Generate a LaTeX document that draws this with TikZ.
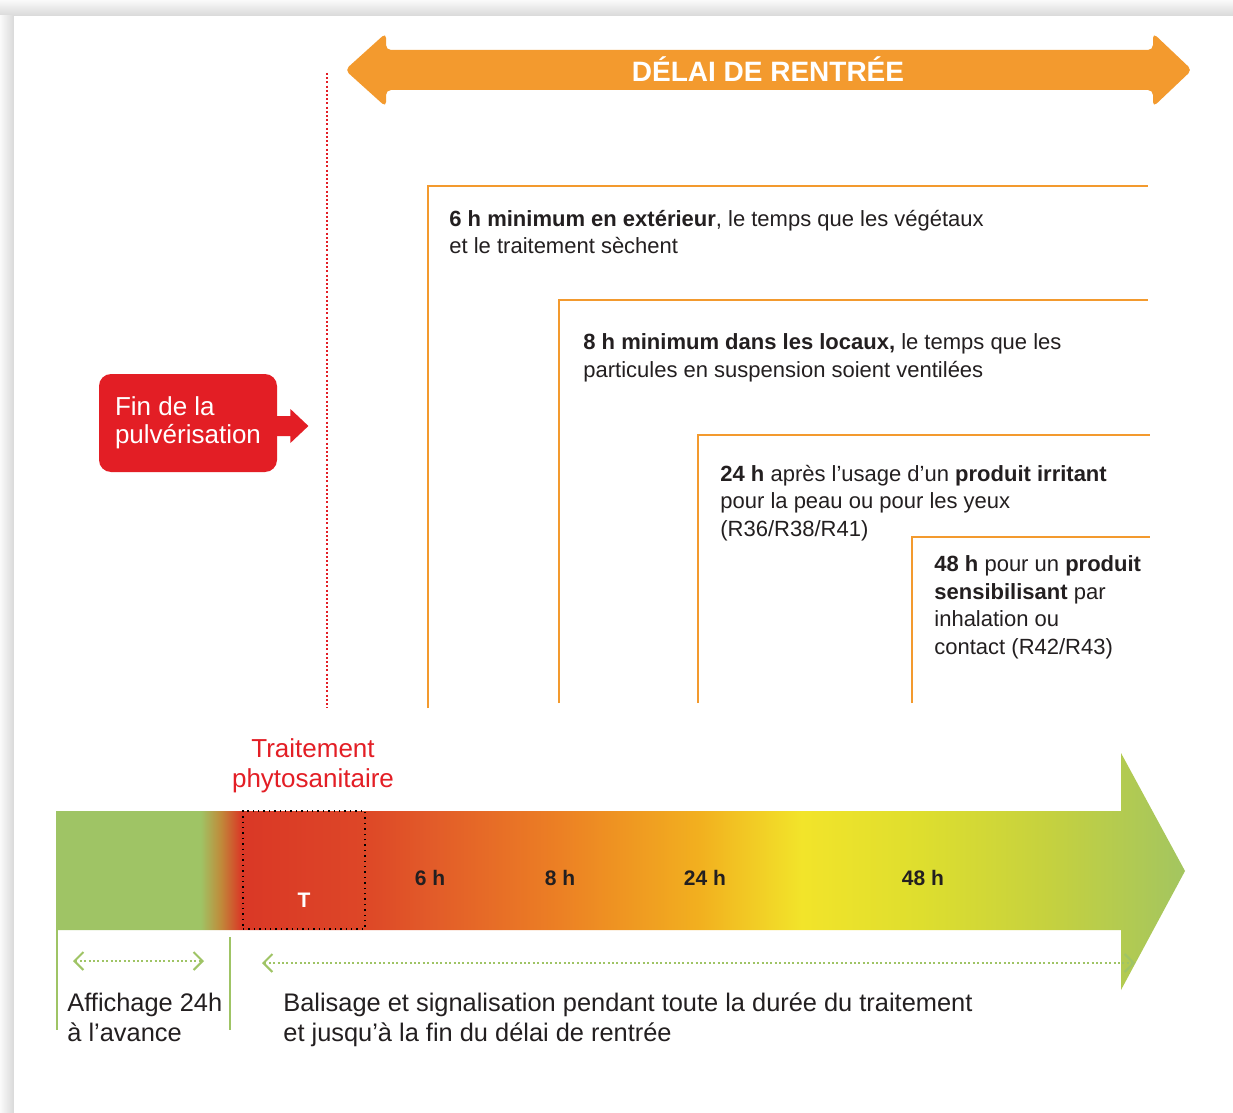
\documentclass[tikz,border=0pt]{standalone}
\usepackage{fontspec}
\setmainfont{Liberation Sans}
\usetikzlibrary{positioning,arrows.meta}
\definecolor{ink}{HTML}{231F20}
\definecolor{delaiorange}{HTML}{F39A2E}
\definecolor{finred}{HTML}{E31E25}
\definecolor{lgreen}{HTML}{9FC465}
\definecolor{barolive}{HTML}{C08A3A}
\definecolor{barred}{HTML}{DA3826}
\definecolor{barredb}{HTML}{DD4627}
\definecolor{barora}{HTML}{E25B29}
\definecolor{barorb}{HTML}{EC8024}
\definecolor{baryelo}{HTML}{F2B01F}
\definecolor{baryel}{HTML}{F2E42A}
\definecolor{baryelg}{HTML}{DEDE2E}
\definecolor{barlime}{HTML}{C5D13F}
\definecolor{bargreen}{HTML}{A3C560}
\pgfdeclarehorizontalshading{timeline}{100bp}{color(0bp)=(lgreen); color(25bp)=(lgreen);
  color(31.4bp)=(lgreen); color(32.3bp)=(barolive); color(33.2bp)=(barred);
  color(38.5bp)=(barredb); color(41.6bp)=(barora); color(47.3bp)=(barorb);
  color(53.5bp)=(baryelo); color(58bp)=(baryel); color(63.3bp)=(baryelg);
  color(69bp)=(barlime); color(75bp)=(bargreen); color(100bp)=(bargreen)}

\begin{document}
\begin{tikzpicture}[x=0.5pt,y=-0.5pt,
    bracket/.style={delaiorange,line width=1pt},
    spray/.style={finred,line width=1pt,dash pattern=on 1pt off 1.1pt},
    gline/.style={lgreen,line width=1.2pt},
    garrow/.style={lgreen,line width=1pt,dash pattern=on 1pt off 1.2pt,{Straight Barb[length=4.5pt,width=9pt,line width=1pt]}-{Straight Barb[length=4.5pt,width=9pt,line width=1pt]}},
    txt/.style={anchor=base west,inner sep=0pt,align=left,text=ink,font=\fontsize{11}{13.7}\selectfont},
    bottomtxt/.style={anchor=base west,inner sep=0pt,align=left,text=ink,font=\fontsize{12.7}{14.6}\selectfont},
    hlabel/.style={anchor=base,inner sep=0pt,text=ink,font=\fontsize{10.5}{12}\selectfont\bfseries},
    finbox/.style={fill=finred,rounded corners=6pt,text=white,align=left,minimum width=89pt,minimum height=49pt,inner xsep=8pt,font=\fontsize{13}{14}\selectfont},
    tbox/.style={draw=black,dotted,line width=0.7pt,minimum width=61pt,minimum height=59pt,inner sep=0pt}]
  \useasboundingbox (0,0) rectangle (1233,1113);
  \shade[top color=gray!4,bottom color=gray!30] (0,0) rectangle (1233,16);
  \shade[left color=gray!4,right color=gray!30] (0,16) rectangle (14,1113);
  \fill[white] (14,16) rectangle (1233,1113);

  \fill[delaiorange,rounded corners=2.5pt] (345,70) -- (386,33) -- (386,50) -- (1153,50) -- (1153,33)
    -- (1192,70) -- (1153,107) -- (1153,90) -- (386,90) -- (386,107) -- cycle;
  \node[anchor=base,inner sep=0pt,text=white,font=\fontsize{14}{16}\selectfont\bfseries] (delai) at (768,82) {DÉLAI DE RENTRÉE};

  \coordinate (sprayTop) at (327,73);
  \coordinate (sprayBot) at (327,708);
  \draw[spray] (sprayTop) -- (sprayBot);

  \node[finbox] (fin) at (188,423) {Fin de la\\pulvérisation};
  \fill[finred] ([shift={(-5,-7)}]fin.east) -- ([shift={(13,-7)}]fin.east) -- ([shift={(13,-14)}]fin.east)
    -- ([shift={(31,3)}]fin.east) -- ([shift={(13,20)}]fin.east) -- ([shift={(13,13)}]fin.east)
    -- ([shift={(-5,13)}]fin.east) -- cycle;

  \foreach \x/\ytop/\ybot/\xr in {428/186/708/1148,559/300/703/1148,698/435/703/1150,912/537/703/1150}
    \draw[bracket] (\x,\ybot) |- (\xr,\ytop);

  \node[txt] (ext) at (449,254) {\textbf{6 h minimum en extérieur}, le temps que les végétaux\\et le traitement sèchent};
  \node[txt] (loc) at (583,377) {\textbf{8 h minimum dans les locaux,} le temps que les\\particules en suspension soient ventilées};
  \node[txt] (irr) at (720,536) {\textbf{24 h} après l’usage d’un \textbf{produit irritant}\\pour la peau ou pour les yeux\\(R36/R38/R41)};
  \node[txt] (sens) at (934,654) {\textbf{48 h} pour un \textbf{produit}\\\textbf{sensibilisant} par\\inhalation ou\\contact (R42/R43)};

  \shade[shading=timeline] (56,811) -- (1121,811) -- (1121,753) -- (1185,871) -- (1121,990) -- (1121,930) -- (56,930) -- cycle;
  \node[tbox] (tbox) at (304,870) {};
  \node[anchor=base,inner sep=0pt,text=white,font=\fontsize{10.5}{12}\selectfont\bfseries] (t) at (304,907) {T};
  \node[anchor=base,inner sep=0pt,align=center,text=finred,font=\fontsize{13}{14.8}\selectfont] (trait) at (313,787) {Traitement\\phytosanitaire};
  \foreach \x/\h in {430/6,560/8,705/24,923/48}
    \node[hlabel] (h\h) at (\x,885) {\h~h};

  \coordinate (affTop) at (57,930);
  \coordinate (affBot) at (57,1030);
  \coordinate (balTop) at (230,937);
  \coordinate (balBot) at (230,1030);
  \draw[gline] (affTop) -- (affBot);
  \draw[gline] (balTop) -- (balBot);
  \coordinate (affL) at (73,961);
  \coordinate (affR) at (204,961);
  \coordinate (balL) at (262,963);
  \coordinate (balR) at (1135,963);
  \draw[garrow] (affL) -- (affR);
  \draw[garrow] (balL) -- (balR);

  \node[bottomtxt] (aff) at (67,1041) {Affichage 24h\\à l’avance};
  \node[bottomtxt] (bal) at (283,1041) {Balisage et signalisation pendant toute la durée du traitement\\et jusqu’à la fin du délai de rentrée};
\end{tikzpicture}
\end{document}
